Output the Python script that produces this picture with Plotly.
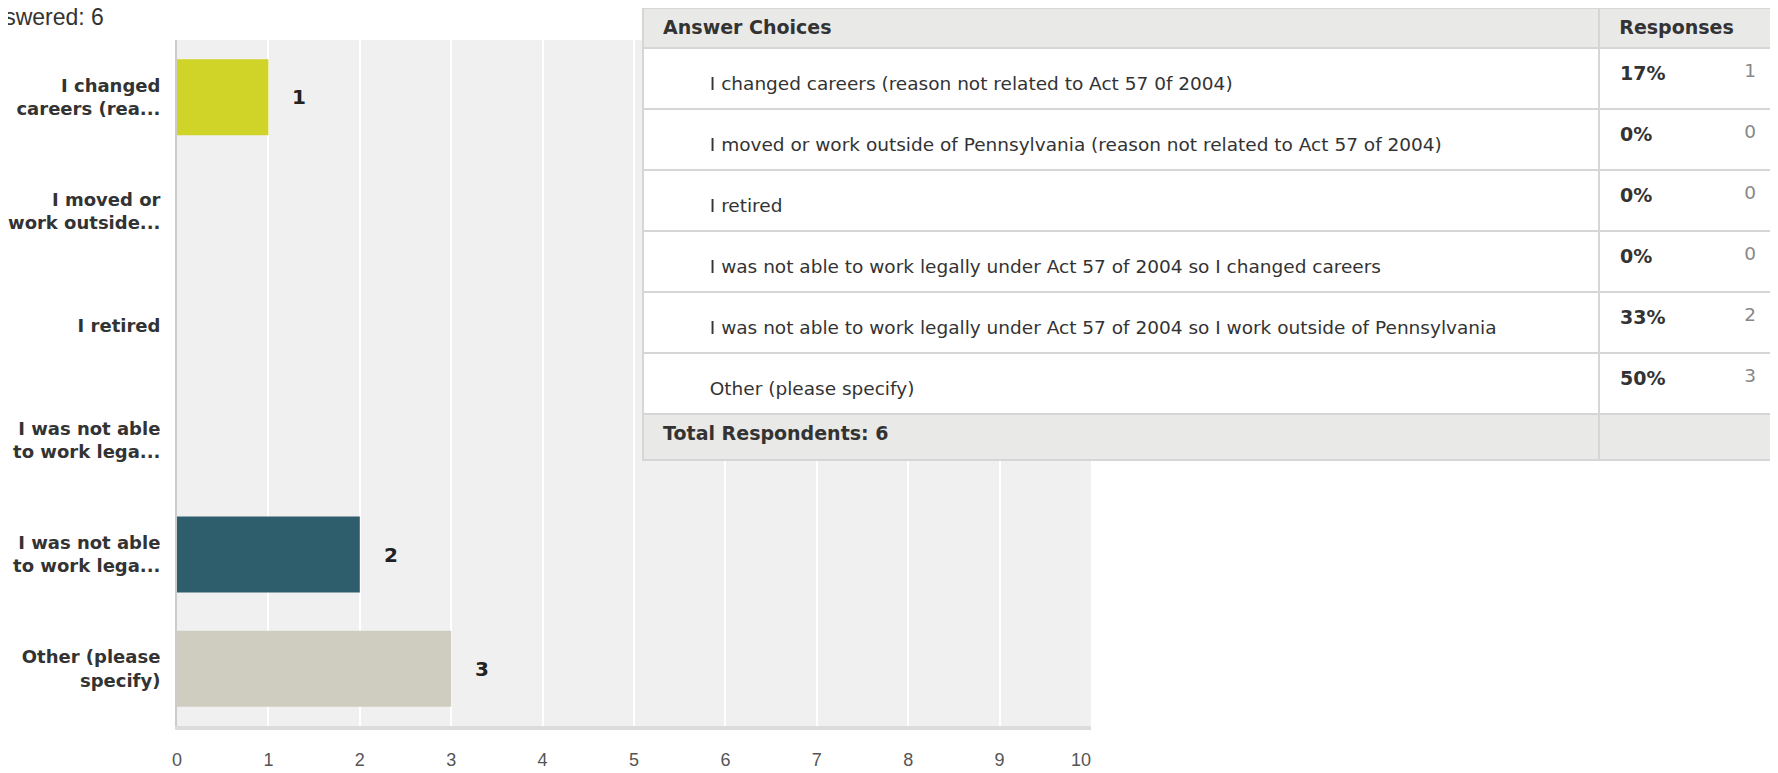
import plotly.graph_objects as go

FONT = "Liberation Sans, Arial, sans-serif"
TFONT = "DejaVu Sans, Verdana, sans-serif"
# the page puts the figure 8px in from the top-left corner
OFF = 8
FW, FH = 1778 - OFF, 773 - OFF


def fx(px):
    return min(1, max(0, (px - OFF) / FW))


def fy(py):
    return min(1, max(0, 1 - (py - OFF) / FH))


choices = [
    "I changed careers (reason not related to Act 57 0f 2004)",
    "I moved or work outside of Pennsylvania (reason not related to Act 57 of 2004)",
    "I retired",
    "I was not able to work legally under Act 57 of 2004 so I changed careers",
    "I was not able to work legally under Act 57 of 2004 so I work outside of Pennsylvania",
    "Other (please specify)",
]
short_labels = [
    "I changed<br>careers (rea...",
    "I moved or<br>work outside...",
    "I retired",
    "I was not able<br>to work lega...",
    "I was not able<br>to work lega...",
    "Other (please<br>specify)",
]
counts = [1, 0, 0, 0, 2, 3]
percents = ["17%", "0%", "0%", "0%", "33%", "50%"]
bar_colors = ["#d0d429", "#d0d429", "#d0d429", "#d0d429", "#2e5e6b", "#cfcdc0"]
x_ticks = list(range(0, 11))
x_ticktext = [str(t) for t in x_ticks[:-1]] + ["10" + "\u00a0" * 4]
total = 6

fig = go.Figure()

fig.add_trace(go.Bar(
    x=counts, y=choices, orientation="h",
    marker=dict(color=bar_colors, line=dict(width=0)),
    hoverinfo="skip",
))

# value labels next to the non-empty bars
for c, v in zip(choices, counts):
    if v > 0:
        fig.add_annotation(x=v, y=c, text=f"<b>{v}</b>", showarrow=False,
                           xanchor="left", xshift=22,
                           font=dict(size=20, color="#222", family=TFONT))

fig.add_annotation(x=fx(105), y=1, xref="paper", yref="paper",
                   text="Answered: 6", showarrow=False, xanchor="right", yanchor="top",
                   borderpad=0, yshift=5,
                   font=dict(size=23, color="#333", family=FONT))

# results table (its top edge sits above the figure, so the header is trimmed)
LINE = dict(color="#d6d6d6", width=2)
NOLINE = dict(width=0)
CLEAR = "rgba(0,0,0,0)"
nb = "\u00a0"
row_h, hdr_h = 61, 40
t_top, t_left, t_split = OFF, 643, 1600
n = len(choices)
tbl_y = [fy(t_top + hdr_h + row_h * n + 40), fy(t_top)]
tfont = dict(size=18.5, color="#333", family=TFONT)
hfont = dict(size=19, color="#333", family=TFONT)

# grid, fills and header text
fig.add_trace(go.Table(
    domain=dict(x=[fx(t_left), 1], y=tbl_y),
    columnwidth=[t_split - t_left, 1778 - t_split],
    header=dict(values=[nb * 2 + "<b>Answer Choices</b>", nb * 2 + "<b>Responses</b>"],
                fill_color="#e9e9e7", line=LINE, align="left", height=hdr_h, font=hfont),
    cells=dict(values=[[""] * n, [""] * n], fill_color="white", line=LINE,
               align="left", height=row_h),
))

# answer texts (sit lower in the rows)
fig.add_trace(go.Table(
    domain=dict(x=[fx(t_left), fx(t_split)], y=tbl_y),
    header=dict(values=[""], fill_color=CLEAR, line=NOLINE, height=hdr_h + 20),
    cells=dict(values=[[nb * 10 + c for c in choices]], fill_color=CLEAR, line=NOLINE,
               align="left", height=row_h, font=tfont),
))

# percentages
fig.add_trace(go.Table(
    domain=dict(x=[fx(t_split), 1], y=tbl_y),
    header=dict(values=[""], fill_color=CLEAR, line=NOLINE, height=hdr_h + 6),
    cells=dict(values=[[nb * 2 + f"<b>{p}</b>" for p in percents]], fill_color=CLEAR,
               line=NOLINE, align="left", height=row_h, font=hfont),
))

# counts, right-aligned inside the responses column
fig.add_trace(go.Table(
    domain=dict(x=[fx(t_split), fx(1764)], y=tbl_y),
    header=dict(values=[""], fill_color=CLEAR, line=NOLINE, height=hdr_h + 7),
    cells=dict(values=[[str(v) for v in counts]], fill_color=CLEAR, line=NOLINE,
               align="right", height=row_h,
               font=dict(size=18.5, color="#888", family=TFONT)),
))

foot_top = t_top + hdr_h + row_h * n
fig.add_trace(go.Table(
    domain=dict(x=[fx(t_left), 1], y=[fy(foot_top + 60), fy(foot_top)]),
    columnwidth=[t_split - t_left, 1778 - t_split],
    header=dict(values=[nb * 2 + f"<b>Total Respondents: {total}</b>", ""],
                fill_color="#e9e9e7", line=LINE, align="left", height=46, font=hfont),
    cells=dict(values=[[], []], height=1),
))

fig.update_layout(
    width=FW, height=FH,
    margin=dict(l=0, r=0, t=0, b=0),
    paper_bgcolor="white", plot_bgcolor="#f0f0f0",
    showlegend=False, bargap=0.335,
    xaxis=dict(domain=[fx(177), fx(1091)], range=[0, 10],
               tickvals=x_ticks, ticktext=x_ticktext,
               showgrid=True, gridcolor="white", gridwidth=2, zeroline=False,
               showline=True, linecolor="#dcdcdc", linewidth=4,
               ticks="", ticklabelstandoff=14, automargin=False,
               tickfont=dict(size=18, color="#555", family=FONT)),
    yaxis=dict(domain=[fy(726), fy(40)], categoryorder="array",
               categoryarray=choices, autorange="reversed",
               tickvals=choices, ticktext=[f"<b>{s}</b>" for s in short_labels],
               showgrid=False, zeroline=False,
               showline=True, linecolor="#cccccc", linewidth=2,
               ticks="", ticklabelstandoff=11, automargin=False,
               tickfont=dict(size=18, color="#333", family=TFONT)),
)

fig.write_html("out.html")
